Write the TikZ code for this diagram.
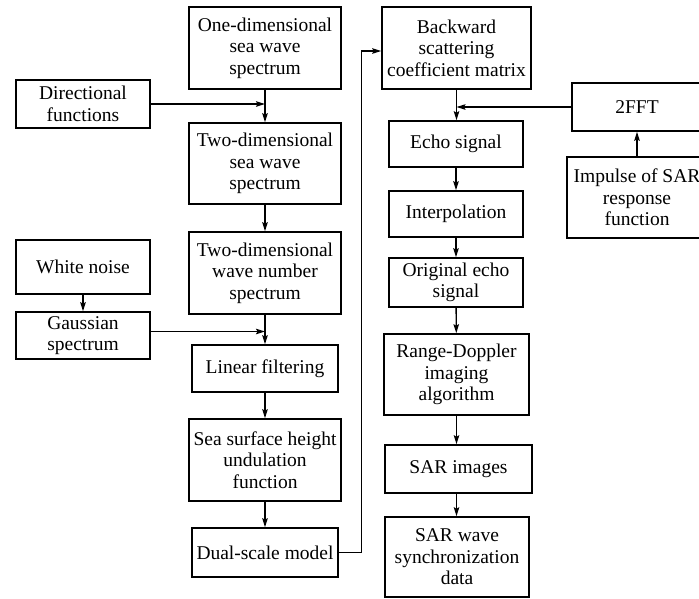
\documentclass[tikz,border=0pt]{standalone}
\usepackage{fontspec}
\setmainfont{Liberation Serif}
\usetikzlibrary{arrows.meta}
\begin{document}
\begin{tikzpicture}[x=1pt,y=-1pt,
 box/.style={draw,line width=1.6pt,inner sep=0pt,align=center,font=\fontsize{19.5}{21.5}\selectfont},
 conn/.style={line width=1.35pt,-{Stealth[length=9pt,width=5.5pt,inset=1.5pt]}}]
\useasboundingbox (0,0) rectangle (699,598);
\clip (0,0) rectangle (699,598);
% left column
\node[box,minimum width=152pt,minimum height=82pt] (one) at (265,48) {One-dimensional\\sea wave\\spectrum};
\node[box,minimum width=134pt,minimum height=48pt] (dir) at (83,104) {Directional\\functions};
\node[box,minimum width=152pt,minimum height=81pt] (two) at (265,163.5) {Two-dimensional\\sea wave\\spectrum};
\node[box,minimum width=152pt,minimum height=82pt] (wave) at (265,273) {Two-dimensional\\wave number\\spectrum};
\node[box,minimum width=134pt,minimum height=54pt] (white) at (83,267) {White noise};
\node[box,minimum width=134pt,minimum height=47pt] (gauss) at (83,335.5) {Gaussian\\spectrum};
\node[box,minimum width=146pt,minimum height=47pt] (lin) at (265,368.5) {Linear filtering};
\node[box,minimum width=152pt,minimum height=82pt] (sea) at (265,460) {Sea surface height\\undulation\\function};
\node[box,minimum width=146pt,minimum height=49pt] (dual) at (265,552.5) {Dual-scale model};
% right column
\node[box,minimum width=149pt,minimum height=82pt] (back) at (456.5,48) {Backward\\scattering\\coefficient matrix};
\node[box,minimum width=134pt,minimum height=46pt] (echo) at (456,144) {Echo signal};
\node[box,minimum width=134pt,minimum height=46pt] (interp) at (456,214) {Interpolation};
\node[box,minimum width=134pt,minimum height=49pt] (orig) at (456,282.5) {Original echo\\signal};
\node[box,minimum width=145pt,minimum height=81pt] (rd) at (456.5,374.5) {Range-Doppler\\imaging\\algorithm};
\node[box,minimum width=147pt,minimum height=48pt] (sarimg) at (458.5,469) {SAR images};
\node[box,minimum width=144pt,minimum height=80pt] (sync) at (457,557) {SAR wave\\synchronization\\data};
\node[box,minimum width=130pt,minimum height=48pt] (fft) at (637,107) {2FFT};
\node[box,minimum width=140pt,minimum height=81pt] (imp) at (637,197.5) {Impulse of SAR\\response\\function};
% connectors
\draw[conn] (one) -- (two);
\draw[conn] (dir.east) -- (dir.east -| one.south);
\draw[conn] (two) -- (wave);
\draw[conn] (white) -- (gauss);
\draw[conn] ([yshift=4pt]gauss.east) -- ([yshift=4pt]gauss.east -| wave.south);
\draw[conn] (wave) -- (lin);
\draw[conn] (lin) -- (sea);
\draw[conn] (sea) -- (dual);
\draw[conn] (dual.east) -- ++(23,0) |- ([yshift=-3pt]back.west);
\draw[conn] (back.south) -- (back.south |- echo.north);
\draw[conn] (fft.west) -- (fft.west -| back.south);
\draw[conn] (imp) -- (fft);
\draw[conn] (echo) -- (interp);
\draw[conn] (interp) -- (orig);
\draw[conn] (orig) -- (rd);
\draw[conn] (rd.south) -- (rd.south |- sarimg.north);
\draw[conn] (sarimg.south -| rd.south) -- (rd.south |- sync.north);
\end{tikzpicture}
\end{document}
